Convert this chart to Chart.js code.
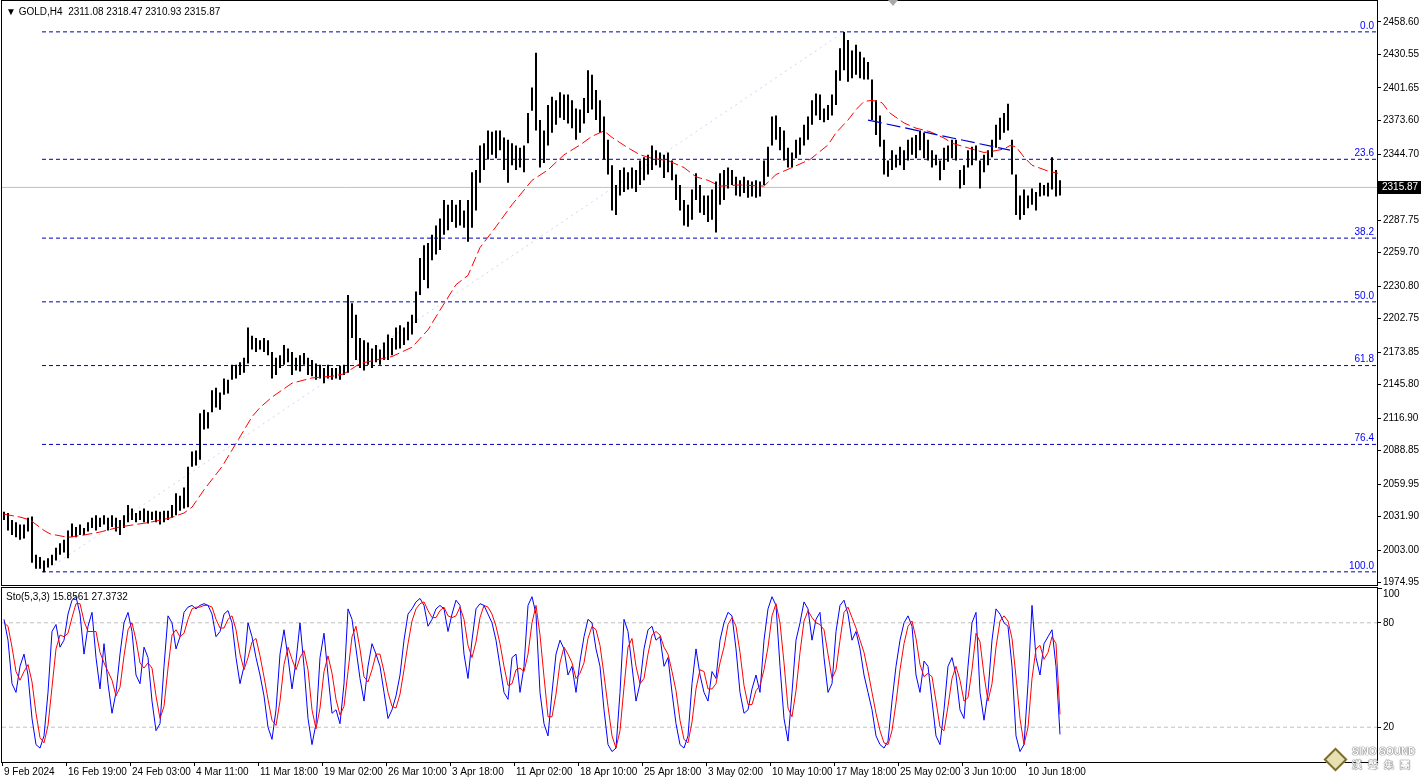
<!DOCTYPE html>
<html>
<head>
<meta charset="utf-8">
<script src="https://cdn.jsdelivr.net/npm/chart.js@4.4.1/dist/chart.umd.min.js"></script>
<style>
body{margin:0;background:#fff;width:1421px;height:780px;overflow:hidden;position:relative;font-family:"Liberation Sans",Arial,sans-serif}
canvas{position:absolute;left:0}
#price{top:0}
#stoch{top:587px}
.lbl{position:absolute;font-size:10px;line-height:14px;color:#000;white-space:pre}
#title{left:6px;top:5px}
#stoLabel{left:6px;top:590px}
#marker{position:absolute;left:888px;top:0;width:0;height:0;border-left:5px solid transparent;border-right:5px solid transparent;border-top:6px solid #a8a8a8}
#logo{position:absolute;left:1327px;top:751px;width:13px;height:13px;transform:rotate(45deg);border:2px solid #7d6d30;background:#e8e0b0}
#wm1{left:1352px;top:745px;font-size:10px;font-weight:bold;color:#fff;text-shadow:0 0 1px #444,0 0 1px #444}
#wm2{left:1352px;top:758px;font-size:10px;font-weight:bold;color:#fff;letter-spacing:6px;text-shadow:0 0 1px #444,0 0 1px #444}
</style>
</head>
<body>
<canvas id="price" width="1421" height="587"></canvas>
<canvas id="stoch" width="1421" height="193"></canvas>
<div class="lbl" id="title">▼ GOLD,H4  2311.08 2318.47 2310.93 2315.87</div>
<div class="lbl" id="stoLabel">Sto(5,3,3) 15.8561 27.3732</div>
<div id="marker"></div>
<div id="logo"></div>
<div class="lbl" id="wm1">SINO SOUND</div>
<div class="lbl" id="wm2">漢聲集團</div>
<script>
// H4 bars, two bars merged per entry (high / low)
const highs = [
  2036,2035,2029,2027,2025,2025,2031,2032,1999,1997,1994,1996,1999,2005,2009,2012,2020,2026,2023,2025,
  2022,2027,2031,2033,2031,2033,2031,2033,2031,2029,2033,2042,2039,2035,2037,2039,2037,2036,2037,2036,
  2037,2037,2042,2052,2050,2057,2075,2088,2089,2121,2124,2122,2141,2143,2139,2151,2150,2163,2163,2165,
  2169,2195,2188,2186,2184,2186,2184,2174,2169,2171,2180,2177,2174,2169,2171,2173,2169,2167,2164,2163,
  2160,2163,2160,2160,2162,2163,2223,2216,2206,2186,2184,2182,2177,2180,2176,2182,2189,2186,2195,2197,
  2195,2200,2206,2226,2255,2266,2268,2275,2283,2289,2305,2301,2305,2301,2305,2296,2305,2329,2331,2352,
  2354,2365,2364,2365,2365,2359,2357,2354,2352,2350,2352,2380,2402,2432,2374,2365,2387,2394,2391,2398,
  2396,2396,2391,2384,2383,2393,2417,2413,2400,2391,2377,2357,2335,2318,2331,2333,2329,2333,2331,2339,
  2342,2344,2352,2348,2346,2344,2346,2339,2327,2318,2305,2301,2314,2328,2318,2309,2309,2314,2321,2328,
  2331,2333,2331,2325,2322,2325,2322,2321,2322,2321,2339,2351,2377,2378,2368,2365,2350,2346,2357,2359,
  2370,2377,2391,2397,2396,2384,2387,2396,2417,2436,2450,2443,2434,2439,2433,2428,2424,2409,2391,2378,
  2357,2339,2348,2344,2351,2348,2357,2359,2361,2365,2363,2357,2348,2344,2339,2350,2352,2357,2357,2331,
  2335,2348,2351,2352,2339,2344,2348,2357,2370,2376,2380,2388,2357,2327,2309,2314,2309,2315,2312,2320,
  2318,2320,2342,2331,2322
];
const lows = [
  2029,2020,2016,2014,2012,2013,2019,1992,1987,1987,1984,1988,1990,1994,1999,2001,1996,2014,2014,2016,
  2016,2019,2022,2020,2023,2025,2020,2023,2019,2016,2022,2027,2029,2027,2029,2027,2026,2029,2027,2025,
  2027,2029,2031,2033,2037,2039,2040,2075,2076,2081,2107,2108,2122,2126,2124,2137,2138,2150,2151,2154,
  2156,2164,2176,2174,2176,2174,2171,2151,2154,2160,2163,2165,2154,2158,2157,2163,2154,2153,2150,2151,
  2147,2151,2150,2151,2150,2154,2156,2186,2167,2160,2158,2163,2160,2165,2163,2167,2167,2171,2176,2177,
  2180,2184,2189,2199,2223,2236,2229,2253,2258,2262,2275,2279,2286,2281,2283,2281,2269,2281,2296,2320,
  2331,2340,2344,2341,2348,2331,2320,2335,2331,2333,2329,2354,2382,2365,2333,2337,2352,2363,2370,2376,
  2374,2371,2367,2357,2363,2371,2380,2383,2374,2363,2340,2327,2296,2292,2309,2312,2314,2315,2312,2318,
  2322,2327,2331,2335,2333,2324,2329,2322,2305,2296,2283,2282,2288,2305,2294,2292,2286,2288,2277,2301,
  2305,2315,2318,2309,2308,2311,2307,2308,2307,2308,2318,2325,2352,2357,2348,2339,2333,2333,2341,2344,
  2352,2357,2370,2378,2374,2372,2374,2378,2387,2408,2417,2407,2410,2413,2410,2409,2409,2374,2361,2351,
  2327,2325,2331,2333,2335,2331,2339,2344,2341,2348,2341,2339,2333,2335,2322,2331,2338,2341,2339,2315,
  2318,2333,2335,2339,2315,2329,2335,2342,2350,2357,2363,2365,2327,2292,2288,2292,2298,2301,2296,2308,
  2309,2308,2314,2308,2309
];

// red moving average, read at sample bars
const maBar = [0,4,6.5,10,11.5,16,20,24,29,36.5,41.5,45,47,50,54.5,58,62,64,67,72,
  77,82,85,89,93,97,102,106,109,113,116,119,123,127,132,136,140,144,147,150,
  152,156,159,162,166,170,173,176,179,184,190,193,197,201.5,206,208,211,213,215,217,
  219.5,221.5,225,228,231.5,235,237,240,242,245,247,250,251.5,253,255,257,261,263.5];
const maVal = [2034,2031.5,2029,2020,2017,2014,2016,2018.6,2023,2027,2030.7,2035,2040,2055,2075,2095,2118,2126,2135,2147,
  2151.5,2153,2155,2164,2167,2170,2178,2193,2210,2232,2240,2264,2282,2301,2322,2331,2344,2352.5,2360,2364.6,
  2359,2350,2344,2341,2339,2333,2325,2322,2317,2318,2317,2327,2333,2340,2352.5,2363,2374,2383,2390,2391,
  2389,2380,2371.5,2367,2364,2358.5,2354,2351,2349,2346,2347,2349,2352,2351,2342,2335,2330,2328];

// Stochastic(5,3,3): main (blue) and signal (red)
const stochK = [
  82,70,45,40,55,62,50,25,10,8, 15,40,75,79,66,70,85,93,95,85, 62,78,86,60,42,68,45,28,40,62,
  80,86,75,50,45,66,60,35,18,22, 55,84,80,65,72,86,89,90,88,90, 91,90,85,72,75,85,87,80,60,45,
  55,80,72,60,50,38,20,13,30,62, 76,60,42,58,80,55,25,10,22,60, 74,50,28,30,22,45,88,82,65,48,
  35,55,68,62,55,40,25,30,38,50, 70,85,88,92,94,90,78,82,88,90, 88,75,85,93,90,62,48,70,88,91,
  90,85,80,70,55,40,36,60,62,40, 55,90,95,85,40,22,15,40,62,70, 65,50,55,40,58,72,82,80,65,55,
  30,10,6,8,40,82,75,55,35,45, 65,76,78,70,72,55,60,40,22,10, 8,15,45,65,50,40,35,52,48,70,
  80,86,84,65,40,28,30,42,50,40, 70,88,95,90,55,25,12,40,70,80, 92,88,70,82,86,60,40,45,75,90,
  93,85,70,75,65,50,40,30,15,10, 8,12,35,55,70,80,84,78,50,40, 58,55,35,15,10,30,55,60,50,30,
  25,55,80,86,40,24,40,70,88,85, 80,78,55,15,6,10,45,90,60,50, 68,72,76,55,15.86
];
const stochD = [
  80,78,66,52,47,52,56,46,28,14, 11,21,43,65,73,72,74,83,91,91, 81,75,75,75,63,57,52,47,38,43,
  61,76,80,70,57,54,57,54,38,25, 32,54,73,76,72,74,82,88,89,89, 90,90,89,82,77,77,82,84,76,62,
  53,60,69,71,61,49,36,24,21,35, 56,66,59,53,60,64,53,30,19,31, 52,61,51,36,27,32,52,72,78,65,
  49,46,53,62,62,52,40,32,31,39, 53,68,81,88,91,92,87,83,83,87, 89,84,83,84,89,82,67,60,69,83,
  90,89,85,78,68,55,44,45,53,54, 52,62,80,90,73,49,26,26,39,57, 66,62,57,48,51,57,71,78,76,67,
  50,32,15,8,18,43,66,71,55,45, 48,62,73,75,73,66,62,52,41,24, 13,11,23,42,53,52,42,42,45,57,
  66,79,83,78,63,44,33,33,41,44, 53,66,84,91,80,57,31,26,41,63, 81,87,83,80,79,76,62,48,53,70,
  86,89,83,77,70,63,52,40,28,18, 11,10,18,34,53,68,78,81,71,56, 49,51,49,35,20,18,32,48,55,47,
  35,37,53,74,69,50,35,45,66,81, 84,81,71,49,25,10,20,48,65,67, 59,63,72,68,27.37
];

const priceTicks = [2458.60,2430.55,2401.65,2373.60,2344.70,2287.75,2259.70,2230.80,2202.75,
  2173.85,2145.80,2116.90,2088.85,2059.95,2031.90,2003.00,1974.95];
const lastPrice = 2315.87;
const fibLevels = [0, 23.6, 38.2, 50, 61.8, 76.4, 100];
const fibHigh = 2450.07, fibLow = 1984.25;
const fibLowBar = 10, fibHighBar = 210;
const trendBar = [216, 251.5];
const trendVal = [2374, 2348];
const dateTicks = [-0.5,15.5,31.5,47.5,63.5,79.5,95.5,111.5,127.5,143.5,159.5,175.5,191.5,207.5,223.5,239.5,255.5];
const dateLabels = ["9 Feb 2024","16 Feb 19:00","24 Feb 03:00","4 Mar 11:00","11 Mar 18:00","19 Mar 02:00",
  "26 Mar 10:00","3 Apr 18:00","11 Apr 02:00","18 Apr 10:00","25 Apr 18:00","3 May 02:00","10 May 10:00",
  "17 May 18:00","25 May 02:00","3 Jun 10:00","10 Jun 18:00"];

const xMin = -0.5, xMax = 343.25;
const FONT = '"Liberation Sans", Arial, sans-serif';
const FSIZE = 10;
const fibPrice = (lv) => fibHigh - (fibHigh - fibLow) * lv / 100;

const framePlugin = {
    id: "frame",
    afterDraw(chart) {
        const { ctx, chartArea: a } = chart;
        ctx.save();
        ctx.strokeStyle = "#000";
        ctx.lineWidth = 1;
        ctx.strokeRect(a.left - 0.5, a.top - 0.5, a.right - a.left + 1, a.bottom - a.top + 1);
        ctx.restore();
    },
};

const priceExtras = {
    id: "priceExtras",
    afterDatasetsDraw(chart) {
        const { ctx, chartArea: a } = chart;
        const y = chart.scales.y;
        ctx.save();
        ctx.font = `${FSIZE}px ${FONT}`;
        ctx.fillStyle = "#0000ff";
        ctx.textAlign = "right";
        ctx.textBaseline = "bottom";
        fibLevels.forEach((lv) => {
            ctx.fillText(lv.toFixed(1), a.right - 3, y.getPixelForValue(fibPrice(lv)) - 1);
        });
        ctx.restore();
    },
    afterDraw(chart) {
        const { ctx, chartArea: a } = chart;
        const py = Math.round(chart.scales.y.getPixelForValue(lastPrice));
        ctx.save();
        ctx.fillStyle = "#000";
        ctx.fillRect(a.right + 1, py - 6, 44, 13);
        ctx.fillStyle = "#fff";
        ctx.font = `${FSIZE}px ${FONT}`;
        ctx.textBaseline = "middle";
        ctx.fillText(lastPrice.toFixed(2), a.right + 5, py + 0.5);
        ctx.restore();
    },
};

const stochExtras = {
    id: "stochExtras",
    afterDraw(chart) {
        const { ctx, chartArea: a } = chart;
        ctx.save();
        ctx.font = `${FSIZE}px ${FONT}`;
        ctx.fillStyle = "#000";
        ctx.textBaseline = "middle";
        ctx.fillText("100", a.right + 6, a.top + 6);
        ctx.beginPath();
        ctx.moveTo(a.right + 1, a.top + 0.5);
        ctx.lineTo(a.right + 5, a.top + 0.5);
        ctx.strokeStyle = "#000";
        ctx.stroke();
        ctx.restore();
    },
};

const flatLine = (yv, color, dash, order) => ({
    type: "line",
    data: [{ x: xMin, y: yv }, { x: xMax, y: yv }],
    borderColor: color,
    borderDash: dash,
    borderWidth: 1,
    pointRadius: 0,
    order,
});

const fibSets = fibLevels.map((lv) => ({
    type: "line",
    data: [{ x: fibLowBar - 0.5, y: fibPrice(lv) }, { x: xMax, y: fibPrice(lv) }],
    borderColor: "#0000b4",
    borderDash: [4, 3],
    borderWidth: 1,
    pointRadius: 0,
    order: 6,
}));

const axisFont = { family: FONT, size: FSIZE };

new Chart(document.getElementById("price"), {
    type: "bar",
    data: {
        datasets: [
            flatLine(lastPrice, "#c0c0c0", [], 8),
            ...fibSets,
            {
                type: "line",
                data: [{ x: fibLowBar, y: fibLow }, { x: fibHighBar, y: fibHigh }],
                borderColor: "#d2d2f2",
                borderDash: [2, 4],
                borderWidth: 1,
                pointRadius: 0,
                order: 7,
            },
            {
                type: "bar",
                data: highs.map((h, i) => ({ x: i, y: [lows[i], h] })),
                backgroundColor: "#000",
                borderWidth: 0,
                barThickness: 2,
                inflateAmount: 0,
                order: 3,
            },
            {
                type: "line",
                data: maBar.map((b, i) => ({ x: b, y: maVal[i] })),
                borderColor: "#ff0000",
                borderDash: [10, 4],
                borderWidth: 1,
                pointRadius: 0,
                order: 1,
            },
            {
                type: "line",
                data: trendBar.map((b, i) => ({ x: b, y: trendVal[i] })),
                borderColor: "#0000c8",
                borderDash: [14, 5],
                borderWidth: 1.2,
                pointRadius: 0,
                order: 0,
            },
        ],
    },
    options: {
        responsive: false,
        animation: false,
        layout: { padding: { left: 2, top: 1, right: 0, bottom: 2 } },
        plugins: { legend: { display: false }, tooltip: { enabled: false } },
        scales: {
            x: { type: "linear", display: false, min: xMin, max: xMax, offset: false },
            y: {
                position: "right",
                min: 1972.9,
                max: 2476.7,
                afterFit(s) { s.width = 44; s.paddingTop = 0; s.paddingBottom = 0; },
                afterBuildTicks(s) { s.ticks = priceTicks.map((v) => ({ value: v })); },
                ticks: { color: "#000", font: axisFont, padding: 2, callback: (v) => Number(v).toFixed(2) },
                grid: { drawOnChartArea: false, tickLength: 4, color: "#000" },
                border: { display: false },
            },
        },
    },
    plugins: [priceExtras, framePlugin],
});

new Chart(document.getElementById("stoch"), {
    type: "line",
    data: {
        datasets: [
            flatLine(80, "#c0c0c0", [4, 3], 5),
            flatLine(20, "#c0c0c0", [4, 3], 5),
            {
                data: stochK.map((v, i) => ({ x: i, y: v })),
                borderColor: "#0000ff",
                borderWidth: 1,
                pointRadius: 0,
                order: 2,
            },
            {
                data: stochD.map((v, i) => ({ x: i, y: v })),
                borderColor: "#ff0000",
                borderWidth: 1,
                pointRadius: 0,
                order: 1,
            },
        ],
    },
    options: {
        responsive: false,
        animation: false,
        layout: { padding: { left: 2, top: 1, right: 0, bottom: 0 } },
        plugins: { legend: { display: false }, tooltip: { enabled: false } },
        scales: {
            x: {
                type: "linear",
                min: xMin,
                max: xMax,
                offset: false,
                afterFit(s) { s.height = 18; s.paddingLeft = 0; s.paddingRight = 0; },
                afterBuildTicks(s) { s.ticks = dateTicks.map((v) => ({ value: v })); },
                ticks: {
                    align: "start",
                    autoSkip: false,
                    maxRotation: 0,
                    padding: 0,
                    labelOffset: 2,
                    color: "#000",
                    font: axisFont,
                    callback: (v, i) => dateLabels[i],
                },
                grid: { drawOnChartArea: false, tickLength: 4, color: "#000" },
                border: { display: false },
            },
            y: {
                position: "right",
                min: 0,
                max: 100,
                afterFit(s) { s.width = 44; s.paddingTop = 0; s.paddingBottom = 0; },
                afterBuildTicks(s) { s.ticks = [80, 20].map((v) => ({ value: v })); },
                ticks: { color: "#000", font: axisFont, padding: 2 },
                grid: { drawOnChartArea: false, tickLength: 4, color: "#000" },
                border: { display: false },
            },
        },
    },
    plugins: [stochExtras, framePlugin],
});
</script>
</body>
</html>
